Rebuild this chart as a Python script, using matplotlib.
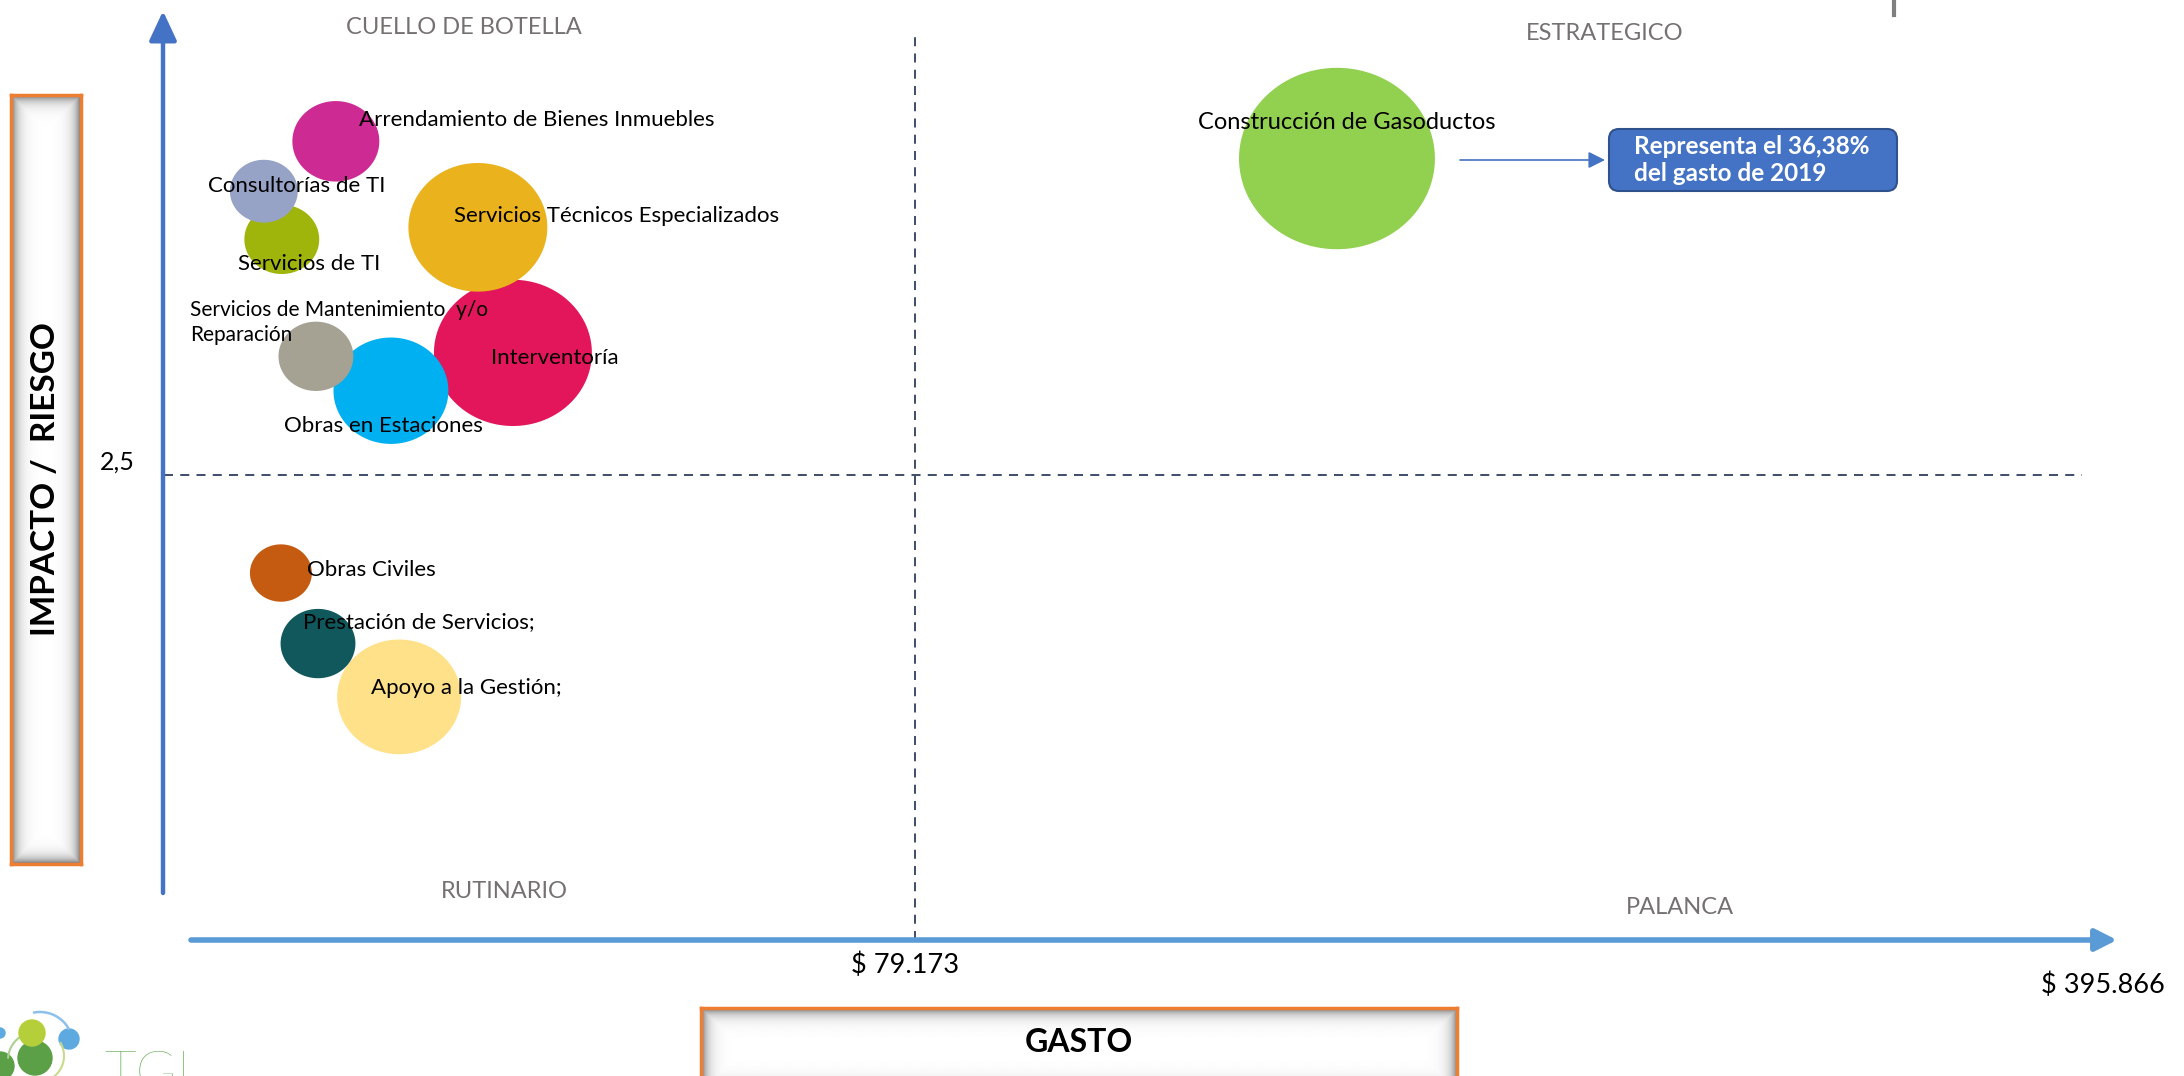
import numpy as np
import matplotlib
matplotlib.use("Agg")
import matplotlib.pyplot as plt
from matplotlib.path import Path
from matplotlib.patches import FancyBboxPatch, Circle

plt.rcParams['font.family'] = ['Lato', 'DejaVu Sans']

W, H = 2184, 1076

# ---- datos ----
categorias = ["Arrendamiento de Bienes Inmuebles", "Consultorías de TI", "Servicios de TI",
              "Servicios Técnicos Especializados", "Servicios de Mantenimiento  y/o\nReparación",
              "Obras en Estaciones", "Interventoría", "Construcción de Gasoductos",
              "Obras Civiles", "Prestación de Servicios;", "Apoyo a la Gestión;"]
gasto = [34830, 31450, 32260, 42600, 33860, 37660, 44770, 144016, 32220, 33960, 38100]
riesgo = [4.44, 4.15, 3.87, 3.94, 3.19, 2.99, 3.21, 4.34, 1.93, 1.52, 1.21]
tamano = [19.7, 12.0, 14.6, 50.3, 14.6, 34.4, 65.0, 100.0, 10.0, 14.6, 40.0]
colores = ["#CD2A93", "#97A3C6", "#A0B50B", "#EAB21C", "#A5A294", "#00B0F0",
           "#E3165B", "#92D050", "#C55A11", "#10585C", "#FFE18A"]
corte_gasto = 79173
max_gasto = 395866
corte_riesgo = 2.5
cuadrantes = ["CUELLO DE BOTELLA", "ESTRATEGICO", "RUTINARIO", "PALANCA"]

# label offsets in pixels (dx, dy up) and alignment
offs = [(23, 21, 'left'), (33, 5, 'center'), (27, -25, 'center'), (-24, 11, 'left'),
        (-126, 34, 'left'), (-8, -35, 'center'), (-22, -5, 'left'), (10, 36, 'center'),
        (26, 3, 'left'), (-15, 21, 'left'), (-28, 9, 'left')]

fig = plt.figure(figsize=(W / 100, H / 100), dpi=100)
ax = fig.add_axes([0, 0, 1, 1])
ax.set_xscale('log')
k = 1624.0  # px per decade
x_cut_px = 915
ax.set_xlim(corte_gasto * 10 ** (-x_cut_px / k), corte_gasto * 10 ** ((W - x_cut_px) / k))
ax.set_ylim(-(H - 905) / 172, 905 / 172)
ax.axis('off')

# elliptical bubble marker
t = np.linspace(0, 2 * np.pi, 120)
elipse = Path(np.column_stack([1.08 * np.cos(t), np.sin(t)]), closed=True)

orden = np.argsort(tamano)[::-1]
ax.scatter(np.array(gasto)[orden], np.array(riesgo)[orden], s=np.array(tamano)[orden] * 199,
           c=np.array(colores)[orden], marker=elipse, linewidths=0, zorder=3)

for i, lab in enumerate(categorias):
    dx, dy, ha = offs[i]
    fs = 16
    if i == 7:
        fs = 17
    if i == 4:
        fs = 15
    ax.annotate(lab, (gasto[i], riesgo[i]), xytext=(dx, dy), textcoords='offset pixels',
                ha=ha, va='center', fontsize=fs, color='black', zorder=5, linespacing=1.3)

# threshold lines
dash = (0, (5, 4))
ax.axhline(corte_riesgo, xmin=164 / W, xmax=2082 / W, color='#2F3F5E', lw=1.3, ls=dash, zorder=2)
ax.axvline(corte_gasto, ymin=1 - 940 / H, ymax=1 - 31 / H, color='#2F3F5E', lw=1.3, ls=dash, zorder=2)

fmt = lambda v: "$ " + f"{v:,.0f}".replace(',', '.')
ax.annotate("2,5", (117 / W, corte_riesgo), xycoords=('axes fraction', 'data'), xytext=(0, 13),
            textcoords='offset pixels', ha='center', va='center', fontsize=18)
ax.annotate(fmt(corte_gasto), (corte_gasto, 1 - 965 / H), xycoords=('data', 'axes fraction'),
            xytext=(-10, 0), textcoords='offset pixels', ha='center', va='center', fontsize=19.5)
ax.annotate(fmt(max_gasto), (max_gasto, 1 - 985 / H), xycoords=('data', 'axes fraction'),
            xytext=(53, 0), textcoords='offset pixels', ha='center', va='center', fontsize=19.5)

# ---- decorations in pixel space ----
deco = fig.add_axes([0, 0, 1, 1])
deco.set_xlim(0, W)
deco.set_ylim(H, 0)
deco.axis('off')
deco.patch.set_visible(False)

deco.annotate("", xy=(163, 11), xytext=(163, 893),
              arrowprops=dict(arrowstyle='-|>,head_length=0.9,head_width=0.42', color='#4472C4',
                              lw=3.2, mutation_scale=20, shrinkA=0, shrinkB=0))
deco.annotate("", xy=(2117, 940), xytext=(191, 940),
              arrowprops=dict(arrowstyle='-|>,head_length=0.65,head_width=0.33', color='#5B9BD5',
                              lw=4, mutation_scale=20, shrinkA=0, shrinkB=0))

qpos = [(464, 28), (1605, 33), (504, 891), (1680, 908)]
for q, (qx, qy) in zip(cuadrantes, qpos):
    deco.text(qx, qy, q, ha='center', va='center', fontsize=17, color='#767171')

# callout
pct = gasto[7] / max_gasto * 100
deco.annotate("", xy=(1605, 160), xytext=(1460, 160),
              arrowprops=dict(arrowstyle='-|>,head_length=1.0,head_width=0.5', color='#4472C4',
                              lw=1.2, mutation_scale=10, shrinkA=0, shrinkB=0))
deco.add_patch(FancyBboxPatch((1609, 129), 288, 62, boxstyle='round,pad=0,rounding_size=10',
                              fc='#4472C4', ec='#2F528F', lw=1.5))
deco.text(1634, 160, f"Representa el {pct:.2f}%".replace('.', ',') + "\ndel gasto de 2019",
          ha='left', va='center', color='white', fontsize=17.5, fontweight='bold', linespacing=1.25)

# small gray mark top right
deco.plot([1894, 1894], [0, 15], color='#7F7F7F', lw=3)

# logo
deco.add_patch(Circle((32, 1033), 13, color='#B5CF3B', zorder=3))
deco.add_patch(Circle((35, 1058), 17, color='#5BA047', zorder=2))
deco.add_patch(Circle((0, 1066), 14, color='#5BA047', zorder=2))
deco.add_patch(Circle((69, 1039), 10, color='#5DA9E0', zorder=2))
deco.add_patch(Circle((0, 1033), 5, color='#5DA9E0', zorder=2))
th = np.radians(np.linspace(30, 100, 40))
deco.plot(40 + 33 * np.cos(th), 1045 - 33 * np.sin(th), color='#8DC0EA', lw=1.8)
th = np.radians(np.linspace(100, 175, 40))
deco.plot(36 + 28 * np.cos(th), 1060 - 28 * np.sin(th), color='#A9D18E', lw=1.5)
th = np.radians(np.linspace(-60, 30, 40))
deco.plot(38 + 26 * np.cos(th), 1056 - 26 * np.sin(th), color='#C9DB8A', lw=1.5)
deco.text(104, 1050, "TGI", ha='left', va='top', fontsize=40, color='#5BA847', fontweight='light')


def caja(x0, y0, x1, y1, texto, rot, ty, fs):
    bax = fig.add_axes([x0 / W, 1 - y1 / H, (x1 - x0) / W, (y1 - y0) / H])
    w, h = int(x1 - x0), int(y1 - y0)
    yy, xx = np.mgrid[0:h, 0:w]
    d = np.minimum.reduce([xx, w - 1 - xx, yy, h - 1 - yy])
    img = 1 - 0.55 * np.exp(-d / 6.0)
    bax.imshow(img, cmap='gray', vmin=0, vmax=1, aspect='auto', extent=[0, 1, 0, 1],
               interpolation='bilinear')
    bax.set_xticks([])
    bax.set_yticks([])
    for s in bax.spines.values():
        s.set_color('#ED7D31')
        s.set_linewidth(2.5)
    bax.text(0.5, ty, texto, rotation=rot, ha='center', va='center', fontsize=fs,
             fontweight='bold', color='black', transform=bax.transAxes)


caja(11, 95, 81, 864, "IMPACTO /  RIESGO", 90, 0.5, 24)
caja(701, 1008, 1457, 1092, "GASTO", 0, (1092 - 1042) / 84, 23)

fig.savefig("out.png", dpi=100)
